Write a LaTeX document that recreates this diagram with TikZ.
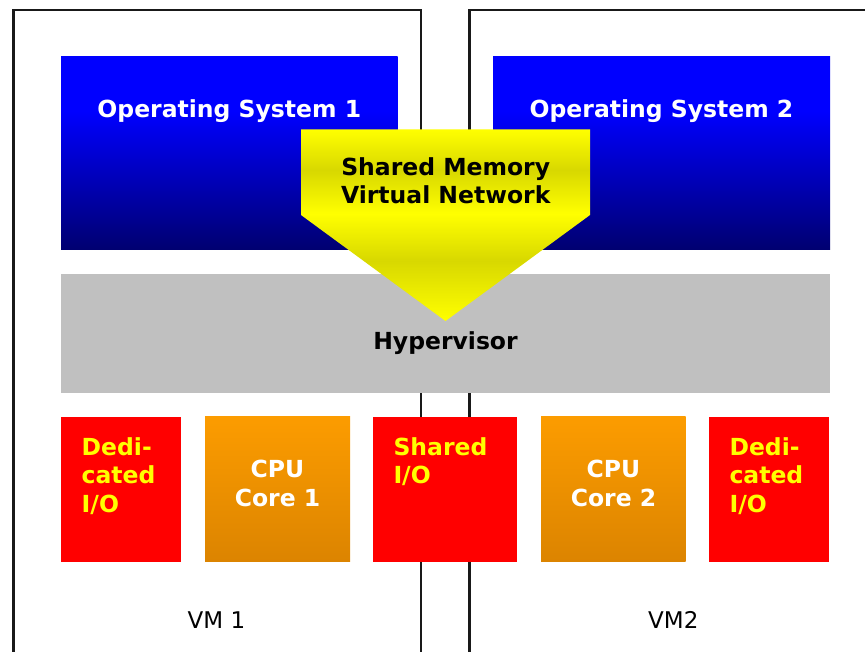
\documentclass[tikz,border=0pt]{standalone}
\usepackage{fontspec}
\setmainfont{DejaVu Sans}

\definecolor{osBot}{RGB}{0,0,112}
\definecolor{ioRed}{RGB}{255,0,0}
\definecolor{ioText}{RGB}{255,255,0}
\definecolor{cpuTop}{RGB}{252,156,0}
\definecolor{cpuBot}{RGB}{220,132,0}
\definecolor{hvGray}{RGB}{192,192,192}
\definecolor{arrDark}{RGB}{216,216,0}
\definecolor{frameCol}{RGB}{25,25,25}

% blue fading to navy towards the bottom of the OS boxes
\pgfdeclareverticalshading{osshade}{100bp}{color(0bp)=(osBot); color(25bp)=(osBot);
  color(61bp)=(blue); color(100bp)=(blue)}
% banded yellow of the shared-memory arrow
\pgfdeclareverticalshading{arrowshade}{100bp}{color(0bp)=(yellow); color(25bp)=(yellow);
  color(40.7bp)=(arrDark); color(53bp)=(yellow); color(64.3bp)=(arrDark);
  color(75bp)=(yellow); color(100bp)=(yellow)}

\begin{document}
\begin{tikzpicture}[x=1pt, y=-1pt,
  vmframe/.style={draw=frameCol, line width=2.4pt},
  osbox/.style={draw=none, shading=osshade},
  hvbox/.style={fill=hvGray},
  iobox/.style={fill=ioRed},
  cpubox/.style={top color=cpuTop, bottom color=cpuBot},
  bigtext/.style={inner sep=0pt, font=\bfseries\fontsize{23.5}{28.4}\selectfont},
  ostext/.style={bigtext, text=white},
  cputext/.style={bigtext, text=white, align=center, anchor=north},
  iotext/.style={bigtext, text=ioText, align=left, anchor=north west},
  arrtext/.style={bigtext, text=black, align=center, anchor=north},
  vmtext/.style={inner sep=0pt, font=\fontsize{23}{27}\selectfont, text=black, anchor=base}]

\useasboundingbox (0,0) rectangle (865,652);

% virtual machine frames (open at the bottom)
\coordinate (vmA-bl) at (13.3,660);
\coordinate (vmA-tl) at (13.3,10);
\coordinate (vmA-tr) at (421,10);
\coordinate (vmA-br) at (421,660);
\coordinate (vmB-bl) at (469.3,660);
\coordinate (vmB-tl) at (469.3,10);
\coordinate (vmB-tr) at (880,10);
\draw[vmframe] (vmA-bl) -- (vmA-tl) -- (vmA-tr) -- (vmA-br);
\draw[vmframe] (vmB-bl) -- (vmB-tl) -- (vmB-tr);

% operating systems
\shade[osbox] (61,57) rectangle (397.7,249.7);
\shade[osbox] (493,57) rectangle (830,249.7);
\node[ostext, anchor=base] (os1) at (229.3,117.8) {Operating System 1};
\node[ostext, anchor=base] (os2) at (661.5,117.8) {Operating System 2};

% hypervisor layer
\fill[hvbox] (61,274) rectangle (830,393.3);
\node[bigtext, anchor=base] (hv) at (445.5,350) {Hypervisor};

% hardware blocks
\fill[iobox] (61,416.7) rectangle (181,561.7);
\shade[cpubox] (205,416.7) rectangle (350,561.7);
\fill[iobox] (373.3,416.7) rectangle (516.7,561.7);
\shade[cpubox] (541,416.7) rectangle (685.7,561.7);
\fill[iobox] (709,416.7) rectangle (829,561.7);

\node[iotext] (ded1) at (81.5,437.2) {Dedi-\\cated\\I/O};
\node[cputext] (cpu1) at (277.5,460) {CPU\\Core 1};
\node[iotext] (shio) at (393.3,437.2) {Shared\\I/O};
\node[cputext] (cpu2) at (613.5,460) {CPU\\Core 2};
\node[iotext] (ded2) at (729.3,437.2) {Dedi-\\cated\\I/O};

% shared memory arrow
\shade[shading=arrowshade] (301,129.3) -- (590,129.3) -- (590,215) -- (445.5,321)
  -- (301,215) -- cycle;
\node[arrtext] (shm) at (445.7,157) {Shared Memory\\Virtual Network};

% machine labels
\node[vmtext] (vm1) at (216.5,628) {VM 1};
\node[vmtext] (vm2) at (673.3,628.3) {VM2};

\end{tikzpicture}
\end{document}
